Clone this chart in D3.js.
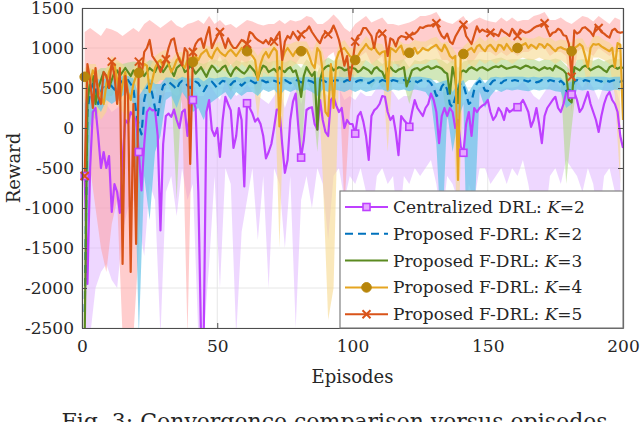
<!DOCTYPE html>
<html>
<head>
<meta charset="utf-8">
<script src="https://cdn.jsdelivr.net/npm/d3@7"></script>
<style>
  body { margin: 0; background: #fff; }
  svg { display: block; }
  text { font-family: "DejaVu Serif", "Liberation Serif", serif; fill: #262626; }
</style>
</head>
<body>
<div class="vis-reward"></div>
<script>
// episodes 1..200 for the mean curves, odd episodes for the shaded bands
const episodes = d3.range(1, 201);
const bandEpisodes = d3.range(1, 200, 2);
const xTicks = [0, 50, 100, 150, 200];
const yTicks = [-2500, -2000, -1500, -1000, -500, 0, 500, 1000, 1500];

const centralK2 = [
  -600, -1950, -500, 200, 250, -100, -500, -300, -500, -350,
  -1050, -700, -800, -1060, -400, 100, 60, 200, 150, 100,
  -300, -780, -200, 200, 250, 220, 230, -100, -1280, -200,
  150, 180, 140, 230, 100, 0, 200, 230, -100, 300,
  350, 250, -800, -2600, -2600, 200, 350, -20, -100, 0,
  -360, 100, 390, 300, 220, -250, -100, 250, 100, -730,
  310, 250, 180, 80, 120, 50, -100, -380, -300, -200,
  0, 230, 230, -200, -560, -400, 100, 330, 430, 0,
  -370, -150, 225, 250, 260, 50, -20, 350, 100, -50,
  -100, 350, 390, 280, 200, 250, 0, 100, 50, 50,
  -70, 150, 200, 80, -100, -400, 150, 220, 250, 300,
  400, 390, 200, 100, 150, -50, -340, 150, 100, 60,
  15, 200, 350, 250, 200, 150, 250, 300, 430, 350,
  200, -190, 150, 250, 150, 250, 200, 0, 100, -230,
  -310, 50, 200, -100, 250, 200, 250, 280, 300, 350,
  200, 100, 150, 250, 200, 100, 250, 200, 220, 250,
  260, 300, 350, 280, 200, 15, 100, 250, 50, -190,
  150, 250, 300, 350, 390, 250, 200, 300, 450, 480,
  420, 450, 350, 200, 250, 350, 450, 300, 200, 100,
  -50, 150, 300, 400, 450, 350, 300, 200, -100, -250
];
const fdrlK2 = [
  -2300, 200, 450, 550, 500, 300, 450, 550, 500, 580,
  520, 480, 540, 600, 560, 580, 600, 550, 500, 200,
  30, -80, 350, 500, 550, 420, 250, 150, 400, 530,
  560, 580, 550, 520, 480, 560, 590, 570, 530, 500,
  540, 580, 560, 500, 460, 520, 560, 580, 540, 500,
  560, 590, 580, 560, 540, 580, 590, 560, 530, 560,
  590, 600, 580, 560, 580, 600, 590, 570, 580, 600,
  590, 580, 560, 590, 600, 580, 560, 580, 600, 590,
  570, 580, 600, 590, 580, 560, 570, 590, 600, 580,
  560, 580, 590, 600, 590, 570, 580, 600, 590, 580,
  570, 590, 600, 590, 580, 560, 580, 600, 590, 580,
  600, 590, 570, 580, 600, 590, 580, 590, 600, 590,
  580, 600, 590, 570, 590, 600, 580, 590, 560, 500,
  400, 420, 520, 560, 480, 300, 260, 380, 480, 560,
  540, 420, 300, 330, 480, 560, 590, 540, 470, 460,
  550, 590, 600, 580, 560, 590, 600, 580, 590, 600,
  590, 580, 600, 590, 580, 600, 590, 570, 580, 600,
  590, 580, 600, 590, 580, 560, 590, 560, 470, 440,
  500, 580, 600, 590, 580, 600, 590, 580, 590, 600,
  590, 580, 600, 590, 580, 590, 600, 590, 580, 590
];
const fdrlK3 = [
  -2600, 300, 600, 650, 300, 500, 600, 700, 650, 500,
  600, 700, 720, 650, 700, 750, 700, 650, 720, 700,
  700, 720, 650, 700, 750, 720, 700, 780, 760, 700,
  750, 800, 720, 650, 750, 780, 800, 700, 720, 780,
  740, 680, 720, 760, 700, 640, 720, 780, 750, 700,
  720, 760, 780, 700, 650, 720, 760, 730, 700, 680,
  720, 780, 740, 700, 620, 720, 780, 760, 700, 720,
  740, 700, 760, 720, 700, 740, 760, 700, 720, 600,
  390, 650, 760, 700, 650, 700, -20, 600, 720, 760,
  780, 770, 720, 740, 760, 750, 720, 730, 760, 750,
  740, 700, 720, 760, 740, 720, 680, 740, 760, 720,
  700, 620, 740, 760, 720, 700, 730, 740, 760, 520,
  620, 720, 740, 750, 720, 740, 760, 770, 740, 750,
  770, 760, 740, 700, 680, 430, 760, 620, 310, 700,
  720, 700, 740, 760, 740, 720, 750, 760, 740, 720,
  740, 760, 770, 760, 780, 760, 740, 750, 760, 770,
  760, 740, 760, 780, 770, 750, 760, 740, 720, 740,
  760, 740, 750, 720, 780, 760, 740, 720, 680, 350,
  320, 760, 740, 720, 760, 780, 760, 720, 740, 760,
  770, 750, 720, 700, 760, 780, 760, 740, 760, 750
];
const fdrlK4 = [
  640, 700, 560, 720, 650, 500, 400, 300, 550, 700,
  780, 800, 600, 350, 550, 700, 450, 350, 550, 650,
  690, 720, 800, 780, 450, 600, 750, 820, 850, 760,
  880, 800, 700, 760, 850, 880, 800, 750, 850, 880,
  825, 900, 850, 920, 950, 980, 900, 870, 950, 1000,
  950, 920, 900, 950, 980, 940, 900, 950, 1000, 950,
  960, 930, 900, 850, 600, 800, 900, 950, 880, 950,
  1000, 960, 20, 850, 950, 1000, 950, 900, 960, 980,
  960, 1000, 980, 900, 800, 750, 1000, 950, 700, 200,
  150, 800, 250, 850, 950, 980, 1000, 950, 900, 880,
  850, 900, 960, 1000, 1050, 1000, 980, 1020, 960, 920,
  950, 960, 480, 1000, 980, 950, 1000, 1030, 920, 960,
  940, 980, 1000, 930, 960, 1000, 980, 970, 1000, 1020,
  1040, 990, 960, 1040, 980, 900, 870, 900, -650, 900,
  925, 950, 980, 1000, 950, 1020, 1040, 990, 960, 1020,
  1040, 1000, 960, 1040, 1030, 980, 1050, 1000, 960, 1000,
  1000, 1020, 1040, 1060, 1000, 1040, 1020, 990, 1050, 1040,
  1000, 1050, 1030, 990, 960, 1000, 1010, 990, 980, 970,
  960, 1000, 1020, 1050, 1020, 900, 760, 1000, 1050, 1040,
  1050, 1020, 1000, 980, 960, 1000, 760, 1060, 1040, 100
];
const fdrlK5 = [
  -600, 800, 600, 250, 750, 400, 300, 700, 650, 500,
  830, 650, 300, 750, -1700, 650, 400, -1800, 300, -1450,
  830, 650, 950, 1000, 1100, 900, 850, 800, 700, 780,
  860, 1000, 1100, 1120, 950, 850, 780, 1000, 950, -450,
  950, 1050, 1100, 1120, 1000, 1150, 1260, 1000, 1080, 1150,
  1200, 1100, 1000, 1120, 1050, 1000, 1000, 1050, 1100, 1080,
  1050, 1200, 1180, 1130, 1100, 1080, 1060, 1100, 1050, 1120,
  1080, 1150, 1200, 850, 1080, 1150, 1120, 1200, 1150, 1100,
  1170, 1200, 1220, 1270, 1200, 1150, 1100, 1060, 1150, 1200,
  1170, 1210, 1280, 1200, 1100, 950, 780, 900, 600, 800,
  1080, 1150, 1170, 1250, 1250, 1200, 1150, 1000, 1180, 1220,
  1180, 1150, 900, 1120, 1100, 1020, 1120, 1150, 1140, 1130,
  1150, 1170, 1180, 1210, 1260, 1250, 1270, 1280, 1280, 1300,
  1310, 1220, 1150, 1120, 1180, 1080, 1050, 1140, 1200, 1260,
  1290, 1150, 1100, 1050, 1160, 1270, 1200, 1230, 1210, 1200,
  1190, 1180, 1170, 1150, 1230, 1200, 1180, 1150, 1240, 1200,
  1150, 1230, 1210, 1190, 1200, 1220, 1250, 1270, 1280, 1300,
  1310, 1230, 1150, 1190, 1200, 1240, 1220, 1160, 1150, 1050,
  640, 1220, 1180, 1200, 1250, 1260, 1230, 1200, 1150, 1270,
  1250, 1200, 1180, 1150, 1130, 1220, 1240, 1200, 1190, 1200
];

// shaded spread (min / max over runs), odd episodes
const centralK2Low = [
  -2600, -2600, -2000, -1800, -1700, -1900, -2000, -1300, -1000, -900,
  -1200, -1600, -700, -900, -2600, -800, -600, -1100, -500, -900,
  -700, -2600, -2600, -1700, -600, -2000, -500, -700, -2600, -1300,
  -900, -500, -1400, -600, -2000, -500, -700, -1500, -600, -2500,
  -900, -600, -1000, -500, -700, -1400, -600, -500, -900, -600,
  -700, -500, -800, -1200, -600, -500, -700, -600, -1300, -600,
  -700, -500, -600, -500, -400, -700, -1200, -600, -700, -900,
  -1500, -700, -900, -500, -500, -700, -600, -500, -700, -500,
  -600, -400, -700, -1100, -900, -1200, -600, -500, -700, -400,
  -500, -600, -800, -500, -700, -1200, -600, -500, -800, -1200
];
const centralK2High = [
  400, 300, 450, 300, 300, 200, 250, 350, 350, 450,
  400, 350, 500, 450, 400, 450, 450, 400, 450, 400,
  550, 400, 400, 550, 450, 350, 600, 500, 400, 450,
  550, 450, 400, 350, 300, 400, 500, 250, 450, 580,
  300, 500, 500, 350, 450, 400, 580, 500, 350, 400,
  350, 450, 400, 400, 500, 580, 500, 450, 350, 400,
  400, 550, 500, 500, 600, 500, 450, 450, 450, 400,
  300, 450, 450, 500, 550, 500, 450, 480, 500, 500,
  520, 580, 500, 400, 350, 450, 550, 600, 500, 600,
  620, 600, 500, 620, 500, 350, 550, 600, 550, 300
];
const fdrlK2Low = [
  -2600, 0, 300, 200, 350, 300, 350, 400, 450, 300,
  -2600, -600, -1150, -300, -100, 350, 400, 250, 450, 350,
  200, 250, 100, 300, 350, 400, 450, 350, 450, 400,
  450, 450, 400, 480, 450, 480, 400, 480, 450, 480,
  450, 480, 450, 400, 480, 450, 480, 470, 450, 480,
  450, 480, 450, 470, 480, 480, 450, 480, 470, 480,
  460, 480, 470, 450, 350, -200, -1500, 200, -300, 100,
  300, -2600, -1200, 450, 250, 400, 480, 450, 480, 470,
  480, 470, 460, 480, 470, 480, 480, 460, 450, 250,
  300, 480, 470, 480, 470, 480, 470, 460, 480, 470
];
const fdrlK2High = [
  300, 600, 620, 600, 620, 620, 620, 650, 650, 620,
  400, 500, 620, 550, 550, 630, 630, 600, 640, 620,
  620, 630, 580, 630, 620, 630, 640, 620, 640, 620,
  640, 640, 630, 640, 640, 640, 630, 640, 630, 640,
  630, 640, 630, 630, 640, 630, 640, 640, 630, 640,
  630, 640, 630, 630, 640, 640, 630, 640, 630, 640,
  630, 640, 640, 630, 620, 560, 580, 600, 450, 560,
  600, 450, 560, 640, 560, 630, 640, 630, 640, 640,
  640, 640, 630, 640, 630, 640, 640, 630, 630, 550,
  580, 640, 630, 640, 640, 640, 640, 630, 640, 640
];
const fdrlK3Low = [
  -2600, 200, 100, 300, 400, 400, 500, 500, 500, 550,
  500, 450, 550, 550, 600, 600, 500, -900, 600, 550,
  600, 550, 500, 550, 600, 550, 600, 450, 600, 550,
  550, 600, 400, 600, 550, 600, 600, 550, 600, 500,
  -400, 600, 450, -300, 550, 600, 600, 600, 550, 600,
  600, 550, 600, 500, 600, 500, 550, 600, 550, 550,
  300, 550, 600, 600, 600, 600, 550, 100, 300, 0,
  550, 600, 600, 600, 600, 600, 620, 620, 600, 620,
  600, 600, 620, 600, 550, 600, 600, 600, 600, -700,
  0, 600, 600, 600, 600, 620, 550, 600, 600, 600
];
const fdrlK3High = [
  700, 750, 700, 750, 750, 800, 820, 800, 820, 830,
  820, 800, 850, 830, 860, 860, 820, 850, 880, 820,
  840, 820, 800, 830, 860, 830, 870, 780, 850, 820,
  830, 850, 760, 870, 820, 840, 850, 820, 850, 820,
  750, 860, 800, 700, 830, 880, 840, 860, 830, 860,
  840, 830, 850, 800, 860, 800, 840, 830, 840, 860,
  760, 850, 830, 860, 850, 870, 850, 800, 850, 750,
  830, 850, 850, 860, 850, 850, 870, 880, 850, 860,
  860, 860, 870, 860, 830, 860, 850, 870, 850, 780,
  700, 850, 860, 860, 840, 870, 830, 860, 860, 860
];
const fdrlK4Low = [
  300, 200, 300, 100, 200, 500, 300, 200, 100, 200,
  400, 500, 200, 500, 600, 600, 450, 650, 600, 650,
  650, 700, 750, 700, 800, 750, 700, 800, 700, 800,
  750, 700, 100, 700, 650, 800, -1500, 750, 750, 800,
  800, 780, 500, 750, -600, -2400, -2000, 700, 800, 700,
  650, 750, 850, 800, 750, 780, -300, 800, 800, 700,
  750, 800, 800, 800, 850, 850, 750, 700, 400, -1500,
  700, 800, 750, 850, 800, 850, 800, 850, 850, 800,
  850, 880, 850, 850, 880, 850, 850, 800, 850, 800,
  750, 850, 850, 500, 880, 880, 850, 800, 400, -700
];
const fdrlK4High = [
  750, 800, 800, 600, 750, 900, 850, 800, 700, 750,
  850, 900, 750, 900, 950, 980, 850, 950, 950, 980,
  980, 1000, 1050, 1020, 1050, 1080, 1000, 1080, 1000, 1100,
  1080, 1000, 900, 1000, 1000, 1100, 900, 1050, 1050, 1080,
  1080, 1080, 950, 1100, 950, 700, 800, 1050, 1100, 1000,
  1000, 1050, 1150, 1080, 1060, 1050, 900, 1080, 1100, 1050,
  1050, 1100, 1080, 1080, 1120, 1140, 1060, 1080, 1000, 900,
  1020, 1080, 1060, 1140, 1080, 1140, 1080, 1130, 1150, 1080,
  1100, 1140, 1120, 1120, 1150, 1120, 1130, 1080, 1110, 1090,
  1070, 1120, 1120, 1000, 1150, 1150, 1100, 1070, 1000, 1150
];
const fdrlK5Low = [
  -700, -500, -1000, -1500, -1800, -1200, -900, -2600, -2600, -2600,
  -1500, 400, 700, 500, 200, 500, 700, 600, 300, -2600,
  600, 800, 700, 850, 800, 900, 750, 800, 700, 850,
  800, 900, 700, 800, 700, 850, 600, 700, 850, 800,
  900, 950, 850, 800, 750, 900, 950, 700, -1000, 200,
  800, 900, 950, 800, 850, 900, 500, 850, 750, 850,
  900, 950, 1000, 1000, 1050, 1000, 850, 850, 800, 900,
  950, 800, 850, 950, 950, 950, 900, 950, 900, 950,
  900, 950, 950, 1000, 1000, 1000, 900, 950, 950, 900,
  200, 950, 1000, 950, 900, 1000, 950, 900, 950, 950
];
const fdrlK5High = [
  1200, 1250, 1200, 1150, 1250, 1230, 1200, 1150, 1200, 1250,
  1200, 1300, 1350, 1300, 1250, 1300, 1350, 1280, 1250, 1300,
  1320, 1350, 1300, 1400, 1300, 1350, 1280, 1300, 1250, 1300,
  1350, 1330, 1300, 1280, 1300, 1300, 1350, 1300, 1350, 1330,
  1350, 1400, 1380, 1300, 1300, 1350, 1420, 1350, 1250, 1200,
  1300, 1350, 1400, 1320, 1350, 1380, 1300, 1300, 1280, 1300,
  1320, 1350, 1400, 1400, 1420, 1450, 1350, 1320, 1300, 1350,
  1400, 1300, 1350, 1380, 1350, 1330, 1320, 1380, 1330, 1380,
  1330, 1350, 1350, 1400, 1420, 1450, 1350, 1350, 1380, 1330,
  1300, 1350, 1400, 1380, 1330, 1400, 1350, 1300, 1380, 1350
];

const series = [
  { name: "Centralized DRL: ", k: "2", values: centralK2, low: centralK2Low, high: centralK2High,
    color: "#BE40FF", band: "#DDB0FF", bandOpacity: 0.5, marker: "square", every: 20, start: 1 },
  { name: "Proposed F-DRL: ", k: "2", values: fdrlK2, low: fdrlK2Low, high: fdrlK2High,
    color: "#0072BD", band: "#6EC6E8", bandOpacity: 0.75, dash: "8,5" },
  { name: "Proposed F-DRL: ", k: "3", values: fdrlK3, low: fdrlK3Low, high: fdrlK3High,
    color: "#5B8A20", band: "#B3D98C", bandOpacity: 0.6 },
  { name: "Proposed F-DRL: ", k: "4", values: fdrlK4, low: fdrlK4Low, high: fdrlK4High,
    color: "#E6A520", band: "#F7D98E", bandOpacity: 0.6, marker: "circle", every: 20, start: 1 },
  { name: "Proposed F-DRL: ", k: "5", values: fdrlK5, low: fdrlK5Low, high: fdrlK5High,
    color: "#D95319", band: "#FF9C9C", bandOpacity: 0.5, marker: "cross", every: 10, start: 1 }
];

const margin = { top: 8, right: 17, bottom: 94, left: 82 };
const width = 640 - margin.left - margin.right;
const height = 422 - margin.top - margin.bottom;
const axisGray = "#4d4d4d";

const root = d3.select(".vis-reward").append("svg")
  .attr("width", 640)
  .attr("height", 422);
const svg = root.append("g")
  .attr("transform", "translate(" + margin.left + "," + margin.top + ")");

const x = d3.scaleLinear().domain([0, 200]).range([0, width]);
const y = d3.scaleLinear().domain([-2500, 1500]).range([height, 0]);

svg.append("clipPath").attr("id", "plot-clip")
  .append("rect").attr("width", width).attr("height", height);

// grid
svg.append("g")
  .selectAll("line.gy")
  .data(yTicks)
  .enter().append("line")
  .attr("x1", 0).attr("x2", width)
  .attr("y1", d => y(d)).attr("y2", d => y(d))
  .attr("stroke", "#e6e6e6").attr("stroke-width", 1);
svg.append("g")
  .selectAll("line.gx")
  .data(xTicks)
  .enter().append("line")
  .attr("x1", d => x(d)).attr("x2", d => x(d))
  .attr("y1", 0).attr("y2", height)
  .attr("stroke", "#e6e6e6").attr("stroke-width", 1);

const plot = svg.append("g").attr("clip-path", "url(#plot-clip)");

// shaded bands first, purple at the back
const bandOrder = [0, 4, 2, 3, 1];
bandOrder.forEach(i => {
  const s = series[i];
  const area = d3.area()
    .x((d, j) => x(bandEpisodes[j]))
    .y0((d, j) => y(s.low[j]))
    .y1((d, j) => y(s.high[j]));
  plot.append("path")
    .datum(s.low)
    .attr("fill", s.band)
    .attr("fill-opacity", s.bandOpacity)
    .attr("d", area);
});

const line = values => d3.line()
  .x((d, j) => x(episodes[j]))
  .y(d => y(d))(values);

series.forEach(s => {
  plot.append("path")
    .attr("fill", "none")
    .attr("stroke", s.color)
    .attr("stroke-width", 2.2)
    .attr("stroke-linejoin", "round")
    .attr("stroke-dasharray", s.dash || null)
    .attr("d", line(s.values));
});

function drawMarker(g, type, cx, cy, color) {
  if (type === "square") {
    g.append("rect")
      .attr("x", cx - 3.5).attr("y", cy - 3.5)
      .attr("width", 7).attr("height", 7)
      .attr("fill", "#E6A8FF").attr("stroke", color).attr("stroke-width", 1.6);
  } else if (type === "circle") {
    g.append("circle")
      .attr("cx", cx).attr("cy", cy).attr("r", 4.8)
      .attr("fill", "#B8860B").attr("stroke", "#B8860B");
  } else if (type === "cross") {
    const r = 4;
    g.append("path")
      .attr("d", `M${cx - r},${cy - r}L${cx + r},${cy + r}M${cx - r},${cy + r}L${cx + r},${cy - r}`)
      .attr("stroke", color).attr("stroke-width", 2).attr("fill", "none");
  }
}

const markerLayer = svg.append("g");
series.forEach(s => {
  if (!s.marker) return;
  episodes.forEach((ep, j) => {
    if ((ep - s.start) % s.every !== 0) return;
    const v = s.values[j];
    if (v < -2500 || v > 1500) return;
    drawMarker(markerLayer, s.marker, x(ep), y(v), s.color);
  });
});

// axes (ticks inside, box on)
const styleAxis = g => {
  g.select(".domain").attr("stroke", axisGray).attr("stroke-width", 1.2);
  g.selectAll(".tick line").attr("stroke", axisGray);
  g.selectAll(".tick text").attr("fill", "#262626").style("font-size", "17px");
};
svg.append("g")
  .attr("transform", "translate(0," + height + ")")
  .call(d3.axisBottom(x).tickValues(xTicks).tickFormat(d => String(d))
    .tickSizeInner(-5).tickSizeOuter(0).tickPadding(12))
  .call(styleAxis);
svg.append("g")
  .call(d3.axisLeft(y).tickValues(yTicks).tickFormat(d => String(d))
    .tickSizeInner(-5).tickSizeOuter(0).tickPadding(8))
  .call(styleAxis);
svg.append("g")
  .call(d3.axisTop(x).tickValues(xTicks).tickSizeInner(-5).tickSizeOuter(0).tickFormat(""))
  .call(styleAxis);
svg.append("g")
  .attr("transform", "translate(" + width + ",0)")
  .call(d3.axisRight(y).tickValues(yTicks).tickSizeInner(-5).tickSizeOuter(0).tickFormat(""))
  .call(styleAxis);

// axis labels
svg.append("text")
  .attr("transform", "rotate(-90)")
  .attr("x", -height / 2)
  .attr("y", -margin.left + 20)
  .attr("text-anchor", "middle")
  .style("font-size", "18px")
  .text("Reward");
svg.append("text")
  .attr("x", width / 2)
  .attr("y", height + 55)
  .attr("text-anchor", "middle")
  .style("font-size", "18px")
  .text("Episodes");

// legend
const legend = svg.append("g").attr("transform", "translate(258,183)");
legend.append("rect")
  .attr("width", 283).attr("height", 137)
  .attr("fill", "#fff").attr("stroke", "#808080").attr("stroke-width", 1.2);
series.forEach((s, i) => {
  const row = legend.append("g").attr("transform", "translate(0," + (16 + i * 26.8) + ")");
  row.append("line")
    .attr("x1", 5).attr("x2", 48)
    .attr("stroke", s.color).attr("stroke-width", 2)
    .attr("stroke-dasharray", s.dash || null);
  if (s.marker) drawMarker(row, s.marker, 26.5, 0, s.color);
  const t = row.append("text")
    .attr("x", 53).attr("dy", "0.35em")
    .style("font-size", "17px");
  t.append("tspan").text(s.name);
  t.append("tspan").style("font-style", "italic").text("K");
  t.append("tspan").text("=" + s.k);
});

// figure caption (cut by the bottom edge, as in the source figure)
root.append("text")
  .attr("x", 338).attr("y", 429)
  .attr("text-anchor", "middle")
  .style("font-size", "22px")
  .text("Fig. 3: Convergence comparison versus episodes.");
</script>
</body>
</html>
